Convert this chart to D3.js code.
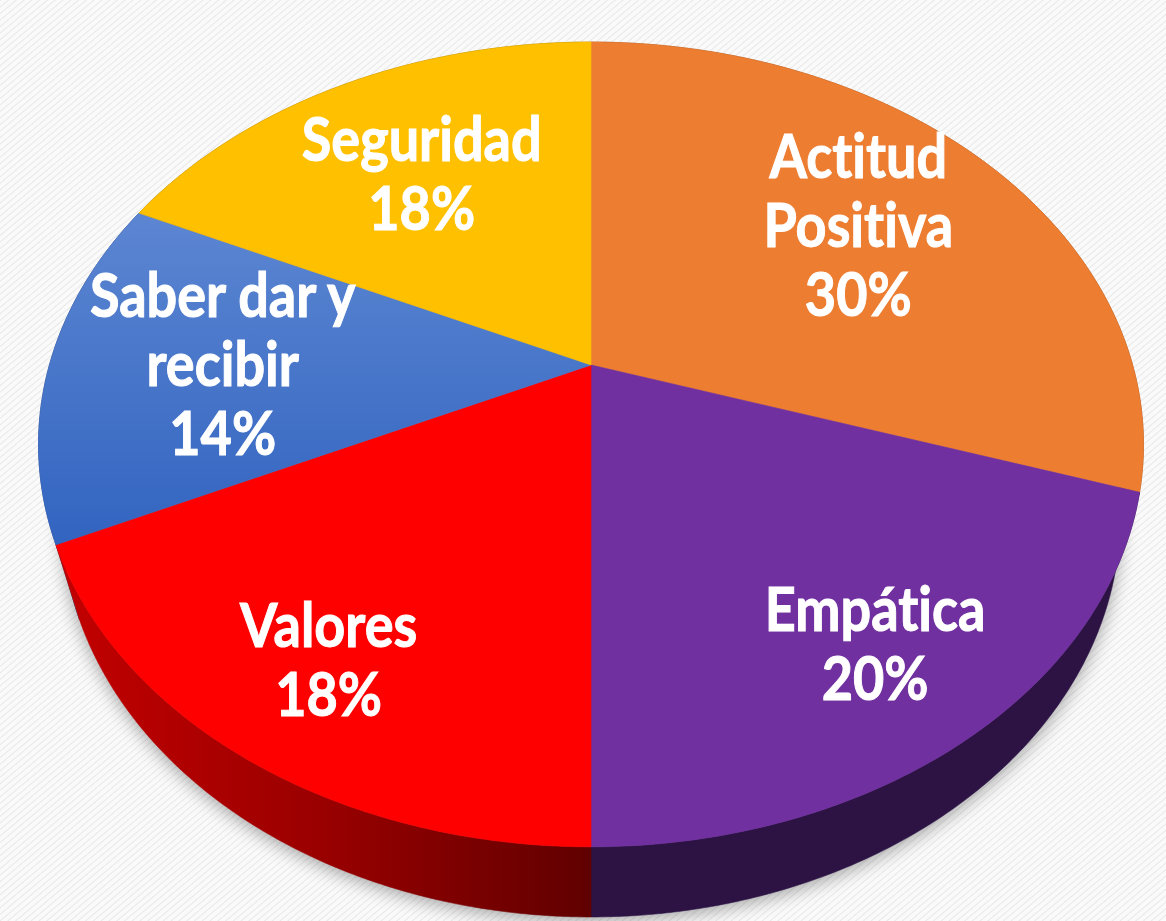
<!DOCTYPE html>
<html lang="es">
<head>
  <meta charset="UTF-8">
  <title>Pie 3D</title>
  <style>
    html, body { margin: 0; padding: 0; background: #fff; }
    svg { display: block; }
    text { font-variant-ligatures: none; font-feature-settings: "liga" 0, "clig" 0; }
  </style>
</head>
<body>
  <svg id="svg" width="1166" height="921"></svg>
  <script src="https://d3js.org/d3.v7.min.js"></script>
  <script>
    // slices, clockwise from 12 o'clock
    const categories = ['Actitud Positiva', 'Empática', 'Valores', 'Saber dar y recibir', 'Seguridad']
    const labelLines = [['Actitud', 'Positiva'], ['Empática'], ['Valores'], ['Saber dar y', 'recibir'], ['Seguridad']]
    const values = [30, 20, 18, 14, 18]
    const topColors = ['#ED7D31', '#7030A0', '#FF0000', 'url(#blueTop)', '#FFC000']
    const sideColors = ['#8a4518', '#2c1344', 'url(#redSide)', '#1f3d75', '#8a6800']

    const W = 1166, H = 921
    const svg = d3.select('#svg')
    const defs = svg.append('defs')

    // faint diagonal background texture
    const pat = defs.append('pattern')
      .attr('id', 'bgpat').attr('width', 5).attr('height', 5)
      .attr('patternUnits', 'userSpaceOnUse')
      .attr('patternTransform', 'rotate(50)')
    pat.append('rect').attr('width', 5).attr('height', 5).attr('fill', '#fafafa')
    pat.append('line').attr('x1', 0).attr('y1', 0).attr('x2', 0).attr('y2', 5)
      .attr('stroke', '#e8e8e8').attr('stroke-width', 2)
    svg.append('rect').attr('width', W).attr('height', H).attr('fill', 'url(#bgpat)')

    const blue = defs.append('linearGradient').attr('id', 'blueTop')
      .attr('gradientUnits', 'userSpaceOnUse').attr('x1', 0).attr('y1', 215).attr('x2', 0).attr('y2', 545)
    blue.append('stop').attr('offset', 0).attr('stop-color', '#5C86D2')
    blue.append('stop').attr('offset', 1).attr('stop-color', '#3264C0')

    const red = defs.append('linearGradient').attr('id', 'redSide')
      .attr('gradientUnits', 'userSpaceOnUse').attr('x1', 50).attr('y1', 0).attr('x2', 592).attr('y2', 0)
    red.append('stop').attr('offset', 0).attr('stop-color', '#c40000')
    red.append('stop').attr('offset', 0.5).attr('stop-color', '#9a0000')
    red.append('stop').attr('offset', 1).attr('stop-color', '#600000')

    const blur = defs.append('filter').attr('id', 'shadow')
      .attr('x', '-20%').attr('y', '-20%').attr('width', '140%').attr('height', '140%')
    blur.append('feGaussianBlur').attr('stdDeviation', 9)

    // perspective projection of a flat disc seen from above
    const cx = 591, cy = 365, K = 541.6
    const sinE = 0.714, cosE = 0.700, D = 3.545, depthH = 0.21
    function proj(theta, r, y) {
      const X = r * Math.sin(theta), Z = r * Math.cos(theta)
      const w = 1 + (cosE * Z - sinE * y) / D
      const v = cosE * y + sinE * Z
      return [cx + K * X / w, cy - K * v / w]
    }
    function arcPoints(a0, a1, y) {
      const n = Math.max(2, Math.ceil(Math.abs(a1 - a0) / 0.01))
      return d3.range(n + 1).map(i => proj(a0 + (a1 - a0) * i / n, 1, y))
    }
    const line = d3.line()

    const pie = d3.pie().sort(null).value(d => d)
    const arcs = pie(values).map((a, i) => ({ ...a, i }))
    const total = d3.sum(values)

    // soft shadow under the disc
    const full = arcPoints(0, 2 * Math.PI, -depthH)
    svg.append('path')
      .attr('d', line(full) + 'Z')
      .attr('transform', 'translate(0,4)')
      .attr('fill', '#000').attr('opacity', 0.35)
      .attr('filter', 'url(#shadow)')

    // outer walls, back to front
    const walls = arcs.slice().sort((a, b) =>
      Math.cos((a.startAngle + a.endAngle) / 2) < Math.cos((b.startAngle + b.endAngle) / 2) ? 1 : -1)
    svg.append('g').selectAll('path')
      .data(walls)
      .join('path')
      .attr('d', d => {
        const top = arcPoints(d.startAngle, d.endAngle, 0)
        const bot = arcPoints(d.endAngle, d.startAngle, -depthH)
        return line(top.concat(bot)) + 'Z'
      })
      .attr('fill', d => sideColors[d.i])
      .attr('stroke', d => sideColors[d.i]).attr('stroke-width', 0.6)

    // top faces
    svg.append('g').selectAll('path')
      .data(arcs)
      .join('path')
      .attr('d', d => line([proj(0, 0, 0)].concat(arcPoints(d.startAngle, d.endAngle, 0))) + 'Z')
      .attr('fill', d => topColors[d.i])
      .attr('stroke', d => topColors[d.i]).attr('stroke-width', 0.6)

    // labels
    const lineH = 69, capH = 42
    const lab = svg.append('g')
      .attr('font-family', 'Lato, "Open Sans", sans-serif')
      .attr('font-weight', 700).attr('font-size', 54)
      .attr('fill', '#fff').attr('stroke', '#fff').attr('stroke-width', 0.9)
      .attr('text-anchor', 'middle')
    arcs.forEach(d => {
      const mid = (d.startAngle + d.endAngle) / 2
      const c = Math.cos(mid)
      const r = 0.68 + (c > 0 ? -0.04 * c : -0.125 * c)
      const [px, py] = proj(mid, r, 0)
      const lines = labelLines[d.i].concat([Math.round(d.value / total * 100) + '%'])
      const blockH = (lines.length - 1) * lineH + capH
      const y0 = py - blockH / 2 + capH
      lines.forEach((t, k) => {
        const by = y0 + k * lineH
        lab.append('text')
          .attr('transform', `translate(${px},${by}) scale(1,1.15)`)
          .text(t)
      })
    })
  </script>
</body>
</html>
